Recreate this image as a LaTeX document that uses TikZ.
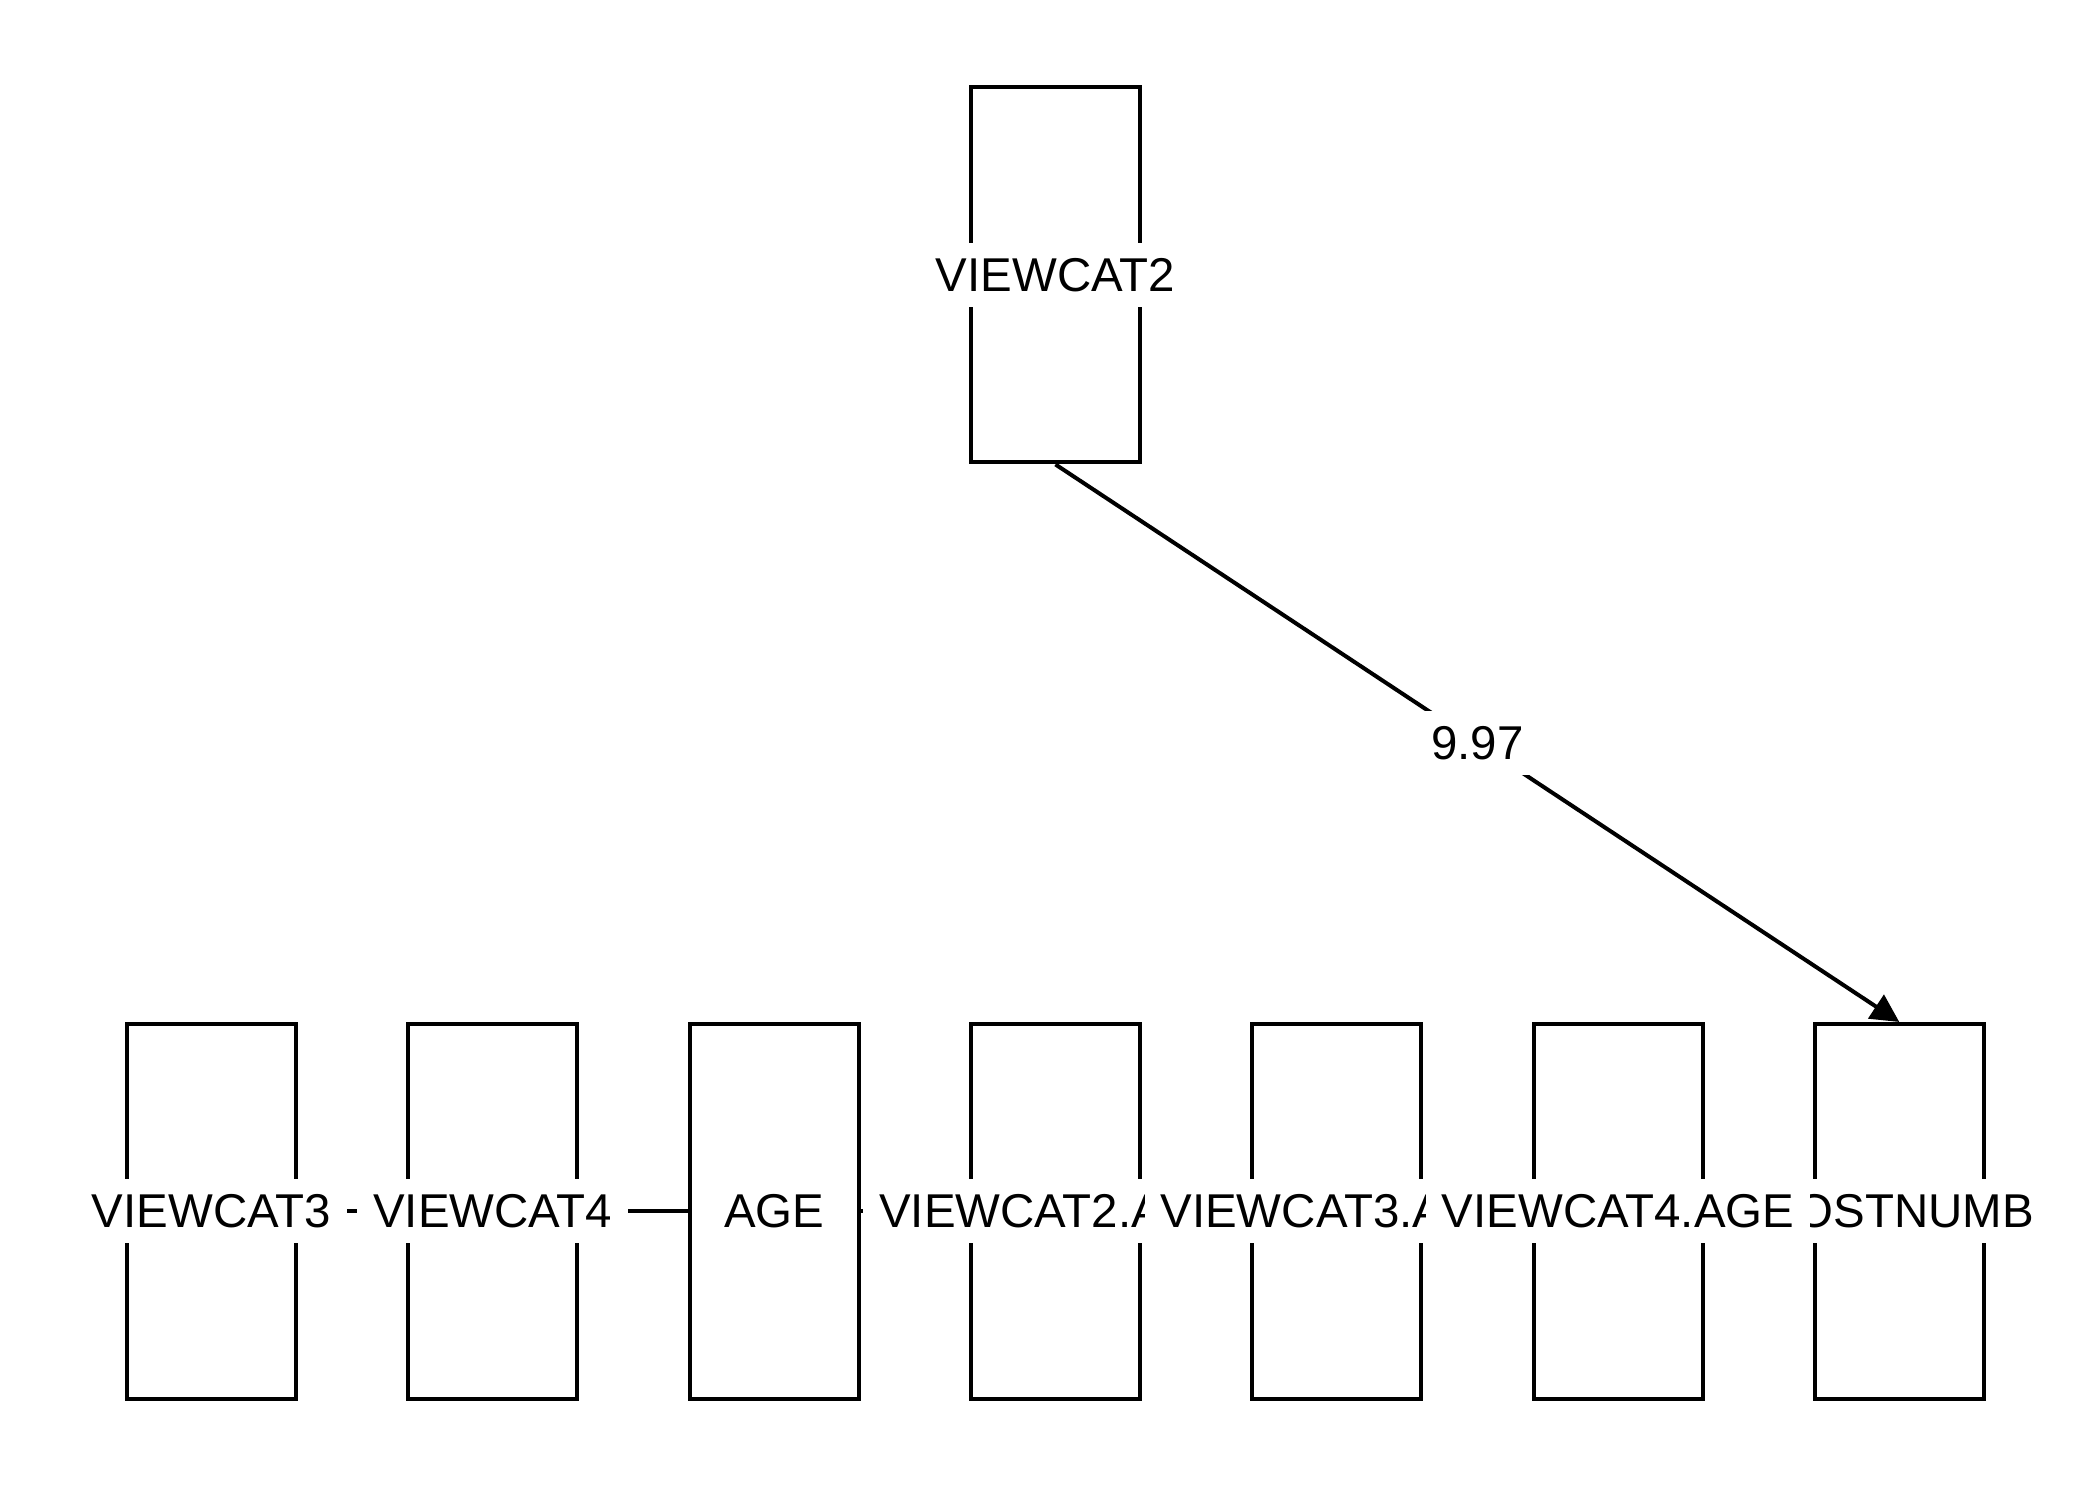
\documentclass[tikz,border=0pt]{standalone}
\usepackage{fontspec}
\setmainfont{Liberation Sans}
\usetikzlibrary{arrows.meta}

\tikzstyle{var}=[shape=rectangle,draw=black,line width=0.04cm,minimum width=1.69cm,minimum height=3.75cm,inner sep=0pt]
\tikzstyle{lbl}=[fill=white,inner xsep=0.16cm,inner ysep=0pt,minimum height=0.64cm,font=\fontsize{13.5}{16}\selectfont]
\tikzstyle{link}=[draw=black,line width=0.04cm]

\begin{document}
\begin{tikzpicture}
        \useasboundingbox (0,0) rectangle (21,14.99);
        % variables
        \node[var] (v2) at (10.555,12.24) {};
        \node[var] (v3) at (2.115,2.875) {};
        \node[var] (v4) at (4.928,2.875) {};
        \node[var] (age) at (7.741,2.875) {};
        \node[var] (v2age) at (10.554,2.875) {};
        \node[var] (v3age) at (13.367,2.875) {};
        \node[var] (v4age) at (16.180,2.875) {};
        \node[var] (post) at (18.993,2.875) {};
        % paths
        \draw[link] (v3) -- (v4);
        \draw[link] (v4) -- (age);
        \draw[link] (age) -- (v2age);
        \draw[link,-{Triangle[length=0.28cm,width=0.28cm]}] (v2.south) -- (post.north)
            node[lbl,midway] (w) {9.97};
        % labels
        \node[lbl] (t-v2) at (v2) {VIEWCAT2};
        \node[lbl] (t-post) at (post) {POSTNUMB};
        \node[lbl] (t-v3) at (v3) {VIEWCAT3};
        \node[lbl] (t-v4) at (v4) {VIEWCAT4};
        \node[lbl] (t-age) at (age) {AGE};
        \node[lbl] (t-v2age) at (v2age) {VIEWCAT2.AGE};
        \node[lbl] (t-v3age) at (v3age) {VIEWCAT3.AGE};
        \node[lbl] (t-v4age) at (v4age) {VIEWCAT4.AGE};
    \end{tikzpicture}
\end{document}
